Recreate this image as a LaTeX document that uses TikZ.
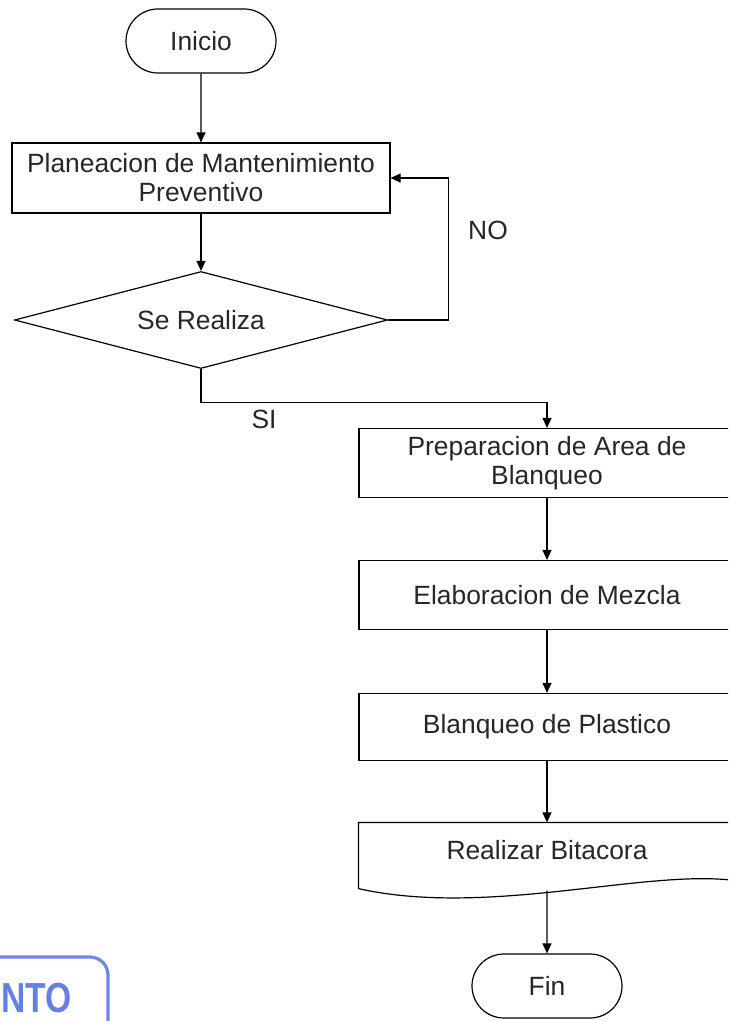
\documentclass[tikz,border=0pt]{standalone}
\usepackage{fontspec}
\setmainfont{Liberation Sans}
\usepackage{xcolor}
\usepackage{tikz}
\usetikzlibrary{shapes,arrows.meta,positioning,calc}
\definecolor{sello}{RGB}{75,105,220}

\begin{document}
\begin{tikzpicture}[
    x=0.5pt, y=-0.5pt,
    every node/.style = {font=\fontsize{13.2}{14.5}\selectfont, text=black!85, align=center},
    caja/.style = {draw, rectangle, minimum width=188pt, minimum height=34.5pt, inner sep=0pt},
    terminal/.style = {draw, rounded rectangle, minimum width=75pt, minimum height=32pt, inner sep=0pt},
    decision/.style = {draw, diamond, aspect=3.85, minimum width=186.5pt, minimum height=48.5pt, inner sep=0pt},
    >={Triangle[length=5pt,width=4.5pt]},
    line width=0.6pt
  ]
  \useasboundingbox (0,0) rectangle (728,1021);
  \clip (0,0) rectangle (728,1021);

  % columna izquierda
  \node[terminal] (inicio) at (201,41) {Inicio};
  \node[caja, minimum width=189pt, minimum height=35pt] (plan) at (201,178) {Planeacion de Mantenimiento\\Preventivo};
  \node[decision] (realiza) at (201,320) {Se Realiza};
  \node (no) at (488,230) {NO};
  \node (si) at (264,419) {SI};

  % columna derecha
  \node[caja] (prep) at (547,463) {Preparacion de Area de\\Blanqueo};
  \node[caja] (mezcla) at (547,595) {Elaboracion de Mezcla};
  \node[caja, minimum height=33.5pt] (blanq) at (547,727) {Blanqueo de Plastico};
  \node[minimum width=188pt, minimum height=27pt, inner sep=0pt] (bita) at (547,850) {Realizar Bitacora};
  \draw ($(bita.south west)+(0,11)$) -- (bita.north west) -- (bita.north east)
    -- ($(bita.south east)+(0,3)$)
    .. controls ($(bita.south east)+(-90,-9)$) and ($(bita.south west)+(130,40)$) .. ($(bita.south west)+(0,11)$);
  \coordinate (bitabajo) at ($(bita.south)+(0,13)$);
  \node[terminal] (fin) at (547,986) {Fin};

  % conexiones
  \draw[->] (inicio) -- (plan);
  \draw[->] (plan) -- (realiza);
  \draw[->] (realiza.east) -- ++(60,0) |- (plan.east);
  \draw[->] (realiza.south) -- ++(0,33) -| (prep.north);
  \draw[->] (prep) -- (mezcla);
  \draw[->] (mezcla) -- (blanq);
  \draw[->] (blanq) -- (bita.north);
  \draw[->] (bitabajo) -- (fin);

  % sello
  \draw[sello!80, line width=1.6pt, rounded corners=9pt] (-40,957) -- (108,957) -- (108,1060);
  \node[anchor=base west, inner sep=0pt, text=sello!85, font=\bfseries\fontsize{21}{21}\selectfont] (nto) at (1,1012) {\scalebox{0.8}[1]{NTO}};
\end{tikzpicture}
\end{document}
